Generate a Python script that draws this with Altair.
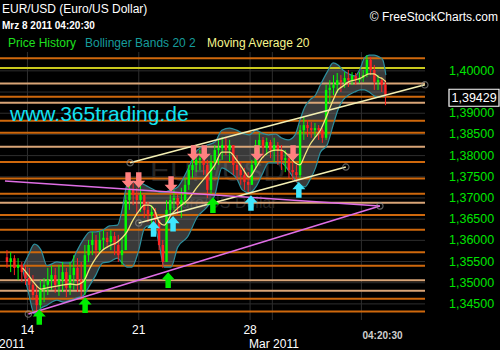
import altair as alt
import pandas as pd

# ---------------- data ----------------
# 4-hour price bars; time axis = trading days counted from Mon 14 Feb 2011
bar_start_day = -0.92
bar_step_day = 1 / 6
first_open = 1.3560
closes = [1.3549, 1.3558, 1.3535, 1.3542, 1.3525, 1.3511, 1.3495, 1.3471, 1.3447, 1.3483,
          1.3495, 1.3506, 1.3518, 1.3495, 1.3506, 1.3525, 1.3488, 1.3518, 1.3535, 1.3506,
          1.3483, 1.3565, 1.3589, 1.3601, 1.3577, 1.3601, 1.3606, 1.3596, 1.3610, 1.3589,
          1.3565, 1.3577, 1.3695, 1.3719, 1.3707, 1.3695, 1.3707, 1.3672, 1.3660, 1.3667,
          1.3648, 1.3589, 1.3549, 1.3672, 1.3695, 1.3700, 1.3683, 1.3695, 1.3731, 1.3766,
          1.3778, 1.3790, 1.3794, 1.3778, 1.3719, 1.3785, 1.3813, 1.3818, 1.3825, 1.3813,
          1.3825, 1.3778, 1.3766, 1.3754, 1.3738, 1.3731, 1.3778, 1.3825, 1.3837, 1.3818,
          1.3832, 1.3813, 1.3825, 1.3813, 1.3790, 1.3794, 1.3766, 1.3761, 1.3754, 1.3860,
          1.3872, 1.3865, 1.3860, 1.3865, 1.3860, 1.3842, 1.3955, 1.3960, 1.3967, 1.3978,
          1.3974, 1.3983, 1.3978, 1.3988, 1.3978, 1.3983, 1.3990, 1.4026, 1.4002, 1.3974,
          1.3978, 1.3967, 1.3943]
highs = [1.3577, 1.3572, 1.3565, 1.3558, 1.3549, 1.3542, 1.3535, 1.3518, 1.3495, 1.3506,
         1.3511, 1.3535, 1.3540, 1.3535, 1.3542, 1.3549, 1.3535, 1.3549, 1.3565, 1.3558,
         1.3549, 1.3589, 1.3601, 1.3620, 1.3613, 1.3620, 1.3624, 1.3620, 1.3624, 1.3620,
         1.3613, 1.3606, 1.3707, 1.3731, 1.3735, 1.3724, 1.3731, 1.3707, 1.3691, 1.3683,
         1.3676, 1.3648, 1.3601, 1.3695, 1.3707, 1.3719, 1.3714, 1.3724, 1.3747, 1.3778,
         1.3794, 1.3801, 1.3813, 1.3813, 1.3790, 1.3801, 1.3825, 1.3837, 1.3844, 1.3842,
         1.3837, 1.3825, 1.3801, 1.3785, 1.3771, 1.3761, 1.3790, 1.3837, 1.3853, 1.3844,
         1.3842, 1.3837, 1.3842, 1.3832, 1.3825, 1.3813, 1.3801, 1.3790, 1.3778, 1.3872,
         1.3891, 1.3884, 1.3879, 1.3877, 1.3872, 1.3865, 1.3967, 1.3978, 1.3990, 1.3995,
         1.3990, 1.3997, 1.4002, 1.3997, 1.3995, 1.3997, 1.4002, 1.4037, 1.4033, 1.4014,
         1.3990, 1.3985, 1.3978]
lows = [1.3535, 1.3525, 1.3518, 1.3506, 1.3502, 1.3495, 1.3483, 1.3459, 1.3431, 1.3440,
        1.3454, 1.3471, 1.3483, 1.3476, 1.3469, 1.3478, 1.3466, 1.3471, 1.3483, 1.3478,
        1.3466, 1.3471, 1.3549, 1.3565, 1.3558, 1.3572, 1.3577, 1.3582, 1.3577, 1.3565,
        1.3549, 1.3542, 1.3577, 1.3672, 1.3683, 1.3660, 1.3667, 1.3653, 1.3643, 1.3636,
        1.3629, 1.3577, 1.3535, 1.3549, 1.3660, 1.3672, 1.3660, 1.3653, 1.3683, 1.3719,
        1.3747, 1.3761, 1.3766, 1.3754, 1.3700, 1.3707, 1.3766, 1.3778, 1.3790, 1.3801,
        1.3785, 1.3754, 1.3742, 1.3731, 1.3719, 1.3714, 1.3731, 1.3766, 1.3801, 1.3794,
        1.3801, 1.3794, 1.3785, 1.3778, 1.3766, 1.3761, 1.3747, 1.3742, 1.3738, 1.3747,
        1.3837, 1.3844, 1.3842, 1.3844, 1.3837, 1.3830, 1.3837, 1.3924, 1.3943, 1.3948,
        1.3950, 1.3960, 1.3962, 1.3967, 1.3967, 1.3971, 1.3974, 1.3985, 1.3990, 1.3955,
        1.3955, 1.3950, 1.3919]

# Bollinger Bands 20 2 and Moving Average 20
band_days = [-0.22, 0.04, 0.31, 0.61, 0.88, 1.32, 1.62, 1.93, 2.19, 2.50, 2.81, 3.07, 3.38, 3.68,
             4.04, 4.25, 4.47, 4.69, 5.00, 5.26, 5.44, 5.70, 5.92, 6.14, 6.45, 6.75, 7.19, 7.63,
             8.07, 8.42, 8.73, 9.08, 9.39, 9.65, 9.96, 10.26, 10.53, 10.83, 11.14, 11.40, 11.71,
             12.02, 12.24, 12.46, 12.68, 12.94, 13.16, 13.46, 13.73, 13.95, 14.17, 14.43, 14.69,
             14.96, 15.13, 15.35, 15.57, 15.79, 15.96, 16.10]
band_upper = [1.3537, 1.3565, 1.3591, 1.3577, 1.3540, 1.3549, 1.3547, 1.3547, 1.3572, 1.3601,
              1.3620, 1.3620, 1.3624, 1.3634, 1.3636, 1.3672, 1.3731, 1.3738, 1.3738, 1.3731,
              1.3726, 1.3719, 1.3714, 1.3714, 1.3719, 1.3726, 1.3766, 1.3813, 1.3825, 1.3832,
              1.3860, 1.3865, 1.3860, 1.3853, 1.3849, 1.3860, 1.3853, 1.3849, 1.3851, 1.3842,
              1.3837, 1.3849, 1.3884, 1.3915, 1.3931, 1.3943, 1.3967, 1.3997, 1.4019, 1.4014,
              1.4002, 1.3993, 1.3988, 1.4007, 1.4030, 1.4037, 1.4037, 1.4033, 1.4026, 1.3990]
band_lower = [1.3532, 1.3478, 1.3426, 1.3440, 1.3447, 1.3459, 1.3454, 1.3459, 1.3464, 1.3469,
              1.3495, 1.3518, 1.3547, 1.3549, 1.3558, 1.3547, 1.3537, 1.3537, 1.3577, 1.3629,
              1.3634, 1.3632, 1.3589, 1.3537, 1.3537, 1.3584, 1.3608, 1.3655, 1.3679, 1.3707,
              1.3771, 1.3761, 1.3747, 1.3719, 1.3712, 1.3726, 1.3754, 1.3783, 1.3783, 1.3783,
              1.3766, 1.3742, 1.3731, 1.3726, 1.3742, 1.3771, 1.3808, 1.3825, 1.3872, 1.3908,
              1.3931, 1.3943, 1.3950, 1.3955, 1.3955, 1.3950, 1.3941, 1.3938, 1.3941, 1.3938]
ma20 = [1.3535, 1.3518, 1.3499, 1.3485, 1.3488, 1.3492, 1.3495, 1.3497, 1.3495, 1.3502,
        1.3535, 1.3558, 1.3577, 1.3587, 1.3596, 1.3606, 1.3620, 1.3643, 1.3669, 1.3683,
        1.3683, 1.3672, 1.3643, 1.3636, 1.3660, 1.3676, 1.3695, 1.3726, 1.3754, 1.3778,
        1.3808, 1.3808, 1.3790, 1.3771, 1.3749, 1.3771, 1.3794, 1.3808, 1.3813, 1.3813,
        1.3801, 1.3783, 1.3778, 1.3801, 1.3825, 1.3844, 1.3860, 1.3896, 1.3931, 1.3955,
        1.3964, 1.3974, 1.3978, 1.3983, 1.3988, 1.3993, 1.3993, 1.3985, 1.3981, 1.3974]

# horizontal support / resistance levels
level_prices = [1.4030, 1.4007, 1.3970, 1.3939, 1.3925, 1.3882, 1.3854, 1.3821, 1.3785, 1.3746,
                1.3710, 1.3689, 1.3660, 1.3625, 1.3572, 1.3540, 1.3506, 1.3481, 1.3462, 1.3432]
level_kinds = ["orange", "yellow", "tan", "orange", "tan", "orange", "orange", "tan", "orange", "orange",
               "orange", "tan", "orange", "orange", "orange", "orange", "tan", "tan", "orange", "orange"]

# trend lines (start day, start price, end day, end price)
trend_kinds = ["channel", "channel", "fan", "fan"]
trend_day1 = [4.61, 5.00, -1.01, 0.04]
trend_p1 = [1.3783, 1.3641, 1.3740, 1.3426]
trend_day2 = [17.85, 14.30, 15.83, 15.83]
trend_p2 = [1.3967, 1.3773, 1.3681, 1.3681]
anchor_days = [4.61, 17.85, 5.00, 14.30, 15.83, 0.04]
anchor_prices = [1.3783, 1.3967, 1.3641, 1.3773, 1.3681, 1.3426]

# signal arrows
sell_days = [4.52, 5.00, 6.45, 7.46, 7.94, 10.31, 11.93]
sell_prices = [1.3742, 1.3742, 1.3733, 1.3806, 1.3806, 1.3806, 1.3806]
cyan_days = [5.66, 6.54, 10.04, 12.19]
cyan_prices = [1.3627, 1.3639, 1.3688, 1.3719]
green_days = [0.53, 2.59, 6.32, 8.33]
green_prices = [1.3419, 1.3447, 1.3506, 1.3683]

grid_prices = [1.345, 1.350, 1.355, 1.360, 1.365, 1.370, 1.375, 1.380, 1.385, 1.390, 1.395, 1.400]
# the 1,39500 label is replaced by the last-price box in the reference
label_prices = [1.345, 1.350, 1.355, 1.360, 1.365, 1.370, 1.375, 1.380, 1.385, 1.390, 1.400]
grid_days = [0, 5, 10, 11, 15]
x_label_days = [0, 5, 10]
x_labels = ["14", "21", "28"]
last_price = 1.39429

# ---------------- tables ----------------
n = len(closes)
bars = pd.DataFrame({
    "d": [bar_start_day + i * bar_step_day for i in range(n)],
    "o": [first_open] + closes[:-1],
    "c": closes, "h": highs, "l": lows,
})
band = pd.DataFrame({"d": band_days, "u": band_upper, "lo": band_lower, "ma": ma20})
levels = pd.DataFrame({"p": level_prices, "k": level_kinds})
trends = pd.DataFrame({"k": trend_kinds, "d1": trend_day1, "p1": trend_p1, "d2": trend_day2, "p2": trend_p2})
anchors = pd.DataFrame({"d": anchor_days, "p": anchor_prices})
sells = pd.DataFrame({"d": sell_days, "p": sell_prices})
cyans = pd.DataFrame({"d": cyan_days, "p": cyan_prices})
greens = pd.DataFrame({"d": green_days, "p": green_prices})
xlab = pd.DataFrame({"d": x_label_days, "t": x_labels})
ygrid = pd.DataFrame({"p": grid_prices})
ylab = pd.DataFrame({"p": label_prices, "t": [f"{v:.5f}".replace(".", ",") for v in label_prices]})
xgrid = pd.DataFrame({"d": grid_days})
lastp = pd.DataFrame({"p": [last_price], "t": [f"{last_price:.5f}".replace(".", ",")]})
one = pd.DataFrame({"k": [0]})

FONT = "Liberation Sans"
xs = alt.Scale(domain=[-1.0088, 17.632], nice=False, zero=False)
ys = alt.Scale(domain=[1.3412, 1.40445], nice=False, zero=False)


def X(f):
    return alt.X(f, type="quantitative", scale=xs, axis=None)


def Y(f):
    return alt.Y(f, type="quantitative", scale=ys, axis=None)


def txt(s, x, y, size, color, weight="normal", align="left"):
    return alt.Chart(one).mark_text(text=s, align=align, baseline="alphabetic", font=FONT,
                                    fontSize=size, color=color, fontWeight=weight).encode(
        x=alt.value(x), y=alt.value(y))


UP = "M0,-1.2 L1,-0.1 L0.42,-0.1 L0.42,1.2 L-0.42,1.2 L-0.42,-0.1 L-1,-0.1 Z"
DOWN = "M0,1.2 L1,0.1 L0.42,0.1 L0.42,-1.2 L-0.42,-1.2 L-0.42,0.1 L-1,0.1 Z"
BOX = "M-1,-0.34 L1,-0.34 L1,0.34 L-1,0.34 Z"

GRID = "#2e2e2e"
layers = [
    alt.Chart(ygrid).mark_rule(color=GRID, strokeWidth=1).encode(y=Y("p")),
    alt.Chart(xgrid).mark_rule(color=GRID, strokeWidth=1).encode(x=X("d")),
    txt("EUR/USD", 150, 129, 30, "#272727"),
    txt("Euro/US Dollar", 170, 156, 16, "#272727"),
    alt.Chart(band).mark_area(color="#808080", opacity=0.45, interpolate="monotone").encode(
        x=X("d"), y=Y("u"), y2="lo"),
]
for kind, col in [("orange", "#cf680c"), ("tan", "#d9a577"), ("yellow", "#c9c91c")]:
    layers.append(alt.Chart(levels).transform_filter(alt.datum.k == kind).mark_rule(
        color=col, strokeWidth=2).encode(y=Y("p")))
for f in ["u", "lo"]:
    layers.append(alt.Chart(band).mark_line(color="#2b8f9e", strokeWidth=1.2, interpolate="monotone").encode(
        x=X("d"), y=Y(f)))
for cond, col in [("datum.c >= datum.o", "#00ff00"), ("datum.c < datum.o", "#ff2222")]:
    layers.append(alt.Chart(bars).transform_filter(cond).mark_rule(color=col, strokeWidth=1).encode(
        x=X("d"), y=Y("l"), y2="h"))
    layers.append(alt.Chart(bars).transform_filter(cond).mark_bar(color=col, size=2.4).encode(
        x=X("d"), y=Y("o"), y2="c"))
layers += [
    alt.Chart(band).mark_line(color="#f2e47e", strokeWidth=1.3, interpolate="monotone").encode(
        x=X("d"), y=Y("ma")),
    alt.Chart(trends).transform_filter(alt.datum.k == "channel").mark_rule(
        color="#f4f0b4", strokeWidth=1.6).encode(x=X("d1"), x2="d2", y=Y("p1"), y2="p2"),
    alt.Chart(trends).transform_filter(alt.datum.k == "fan").mark_rule(
        color="#e06ee6", strokeWidth=1.6).encode(x=X("d1"), x2="d2", y=Y("p1"), y2="p2"),
    alt.Chart(anchors).mark_point(shape="circle", size=40, filled=False, color="#8c8c8c",
                                   strokeWidth=1.2).encode(x=X("d"), y=Y("p")),
    alt.Chart(sells).mark_point(shape=DOWN, size=169, filled=True, color="#ff8080", opacity=1).encode(
        x=X("d"), y=Y("p")),
    alt.Chart(cyans).mark_point(shape=UP, size=169, filled=True, color="#3ee6ff", opacity=1).encode(
        x=X("d"), y=Y("p")),
    alt.Chart(greens).mark_point(shape=UP, size=169, filled=True, color="#00ee00", opacity=1).encode(
        x=X("d"), y=Y("p")),
    alt.Chart(ylab).mark_text(align="left", baseline="middle", font=FONT, fontSize=12.5,
                              color="#00e400").encode(x=alt.value(449), y=Y("p"), text="t:N"),
    alt.Chart(lastp).mark_point(shape=BOX, size=2500, filled=True, color="#000000", stroke="#ffffff",
                                 strokeWidth=1.2, opacity=1, yOffset=2.7).encode(
        x=alt.value(474), y=Y("p")),
    alt.Chart(lastp).mark_text(align="left", baseline="middle", font=FONT, fontSize=12.5, color="#ffffff",
                                yOffset=2.9).encode(x=alt.value(451.5), y=Y("p"), text="t:N"),
    txt("www.365trading.de", 10, 69, 21, "#12e2f2"),
    txt("EUR/USD (Euro/US Dollar)", 2, -39, 12, "#ffffff"),
    txt("Mrz 8 2011 04:20:30", 2, -23.5, 10, "#ffffff", weight="bold"),
    txt("Price History", 8, -5.5, 12, "#1ee01e"),
    txt("Bollinger Bands 20 2", 85, -5.5, 12, "#169c9c"),
    txt("Moving Average 20", 207, -5.5, 12, "#f6f68c"),
    txt("\u00a9 FreeStockCharts.com", 498, -31, 12, "#ffffff", align="right"),
    alt.Chart(xlab).mark_text(align="center", baseline="alphabetic", font=FONT, fontSize=12,
                               color="#ffffff").encode(x=X("d"), y=alt.value(282), text="t:N"),
    txt("2011", -1, 296, 12, "#ffffff"),
    txt("Mar 2011", 274, 296, 12, "#ffffff", align="center"),
    txt("04:20:30", 382.5, 287, 10, "#d0d0d0", weight="bold", align="center"),
]

chart = alt.layer(*layers).properties(
    width=425, height=268,
    autosize=alt.AutoSizeParams(type="none"),
    padding={"left": 0, "top": 52, "right": 75, "bottom": 30},
    background="#000000",
).configure_view(stroke=None)

chart.save("out.html", embed_options={"renderer": "svg", "actions": False})
